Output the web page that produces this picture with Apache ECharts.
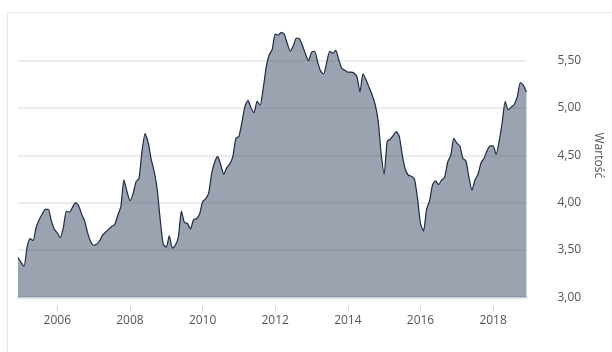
<!DOCTYPE html>
<html>
<head>
<meta charset="utf-8">
<script src="https://cdn.jsdelivr.net/npm/echarts@6/dist/echarts.min.js"></script>
<style>
html,body{margin:0;padding:0;background:#fff;}
#chart{width:612px;height:352px;}
</style>
</head>
<body>
<div id="chart"></div>
<script>
// Monthly observations, Dec 2004 .. Dec 2018
var startYear = 2004, startMonth = 12;
var values = [
  3.42, 3.37, 3.33, 3.53, 3.62, 3.60, 3.74, 3.82, 3.88, 3.93, 3.93, 3.81,
  3.72, 3.68, 3.63, 3.74, 3.91, 3.90, 3.95, 4.00, 3.97, 3.88, 3.81, 3.68,
  3.59, 3.55, 3.56, 3.60, 3.66, 3.69, 3.72, 3.75, 3.77, 3.87, 3.96, 4.24,
  4.12, 4.02, 4.09, 4.22, 4.26, 4.55, 4.73, 4.64, 4.46, 4.33, 4.14, 3.82,
  3.56, 3.53, 3.65, 3.52, 3.55, 3.64, 3.91, 3.79, 3.78, 3.72, 3.82, 3.83,
  3.88, 4.01, 4.04, 4.10, 4.31, 4.43, 4.49, 4.40, 4.30, 4.37, 4.41, 4.49,
  4.68, 4.70, 4.85, 5.02, 5.08, 5.00, 4.95, 5.07, 5.03, 5.20, 5.43, 5.56,
  5.62, 5.78, 5.77, 5.80, 5.78, 5.68, 5.60, 5.66, 5.74, 5.73, 5.66, 5.57,
  5.50, 5.59, 5.60, 5.49, 5.39, 5.36, 5.48, 5.60, 5.58, 5.61, 5.51, 5.42,
  5.40, 5.38, 5.38, 5.37, 5.33, 5.17, 5.36, 5.30, 5.22, 5.14, 5.04, 4.87,
  4.52, 4.30, 4.65, 4.67, 4.71, 4.75, 4.70, 4.50, 4.35, 4.29, 4.28, 4.25,
  4.05, 3.78, 3.70, 3.93, 4.02, 4.19, 4.23, 4.19, 4.24, 4.27, 4.43, 4.50,
  4.68, 4.63, 4.60, 4.47, 4.44, 4.27, 4.13, 4.24, 4.30, 4.42, 4.47, 4.55,
  4.60, 4.60, 4.51, 4.65, 4.85, 5.07, 4.98, 5.01, 5.04, 5.12, 5.27, 5.24,
  5.17
];
var categories = [];
(function(){
  var y = startYear, m = startMonth;
  for (var i = 0; i < values.length; i++) {
    categories.push(y + '-' + (m < 10 ? '0' + m : '' + m));
    m++; if (m > 12) { m = 1; y++; }
  }
})();
var yearLabels = ['2006', '2008', '2010', '2012', '2014', '2016', '2018'];
var yTicks = { min: 3, max: 6, interval: 0.5 };
var axisName = 'Wartość';

function isLabelCat(idx, val) {
  var parts = String(val).split('-');
  return parts[1] === '01' && yearLabels.indexOf(parts[0]) >= 0;
}

var chart = echarts.init(document.getElementById('chart'), null, {renderer: 'canvas'});
chart.setOption({
  animation: false,
  backgroundColor: '#ffffff',
  textStyle: { fontFamily: 'Open Sans' },
  graphic: [{
    type: 'rect',
    shape: { x: 7.5, y: 12.5, width: 620, height: 360 },
    style: { fill: 'none', stroke: '#e8e8e8', lineWidth: 1 },
    silent: true, z: -10
  }],
  grid: { left: 18, right: 84.3, top: 13.4, bottom: 54.7 },
  xAxis: [{
    type: 'category',
    data: categories,
    boundaryGap: false,
    offset: 9,
    axisLine: { show: false },
    axisTick: { show: true, length: 5, interval: isLabelCat, lineStyle: { color: '#cccccc' } },
    axisLabel: {
      interval: isLabelCat,
      margin: 8,
      color: '#555555',
      fontSize: 12,
      fontFamily: 'Open Sans',
      formatter: function (v) { return String(v).split('-')[0]; }
    },
    splitLine: { show: false }
  }, {
    type: 'category',
    data: categories,
    boundaryGap: false,
    position: 'bottom',
    axisLine: { show: true, lineStyle: { color: '#dfe3ec', width: 3 } },
    axisTick: { show: false },
    axisLabel: { show: false },
    splitLine: { show: false }
  }],
  yAxis: {
    type: 'value',
    position: 'right',
    min: yTicks.min,
    max: yTicks.max,
    interval: yTicks.interval,
    name: axisName,
    nameLocation: 'middle',
    nameRotate: -90,
    nameGap: 62,
    nameTextStyle: { color: '#555555', fontSize: 12, fontFamily: 'Open Sans' },
    axisLine: { show: false },
    axisTick: { show: false },
    axisLabel: {
      margin: 31,
      color: '#555555',
      fontSize: 12,
      fontFamily: 'Open Sans',
      showMaxLabel: false,
      formatter: function (v) { return v.toFixed(2).replace('.', ','); }
    },
    splitLine: { show: true, showMaxLine: false, showMinLine: false, lineStyle: { color: '#e6e6e6', width: 1.5 } }
  },
  series: [{
    type: 'line',
    data: values,
    xAxisIndex: 0,
    symbol: 'none',
    smooth: 0.2,
    lineStyle: { color: '#1d2a45', width: 1.2 },
    areaStyle: { color: 'rgba(55,71,99,0.5)', opacity: 1, origin: 'start' },
    z: 2
  }]
});
</script>
</body>
</html>
